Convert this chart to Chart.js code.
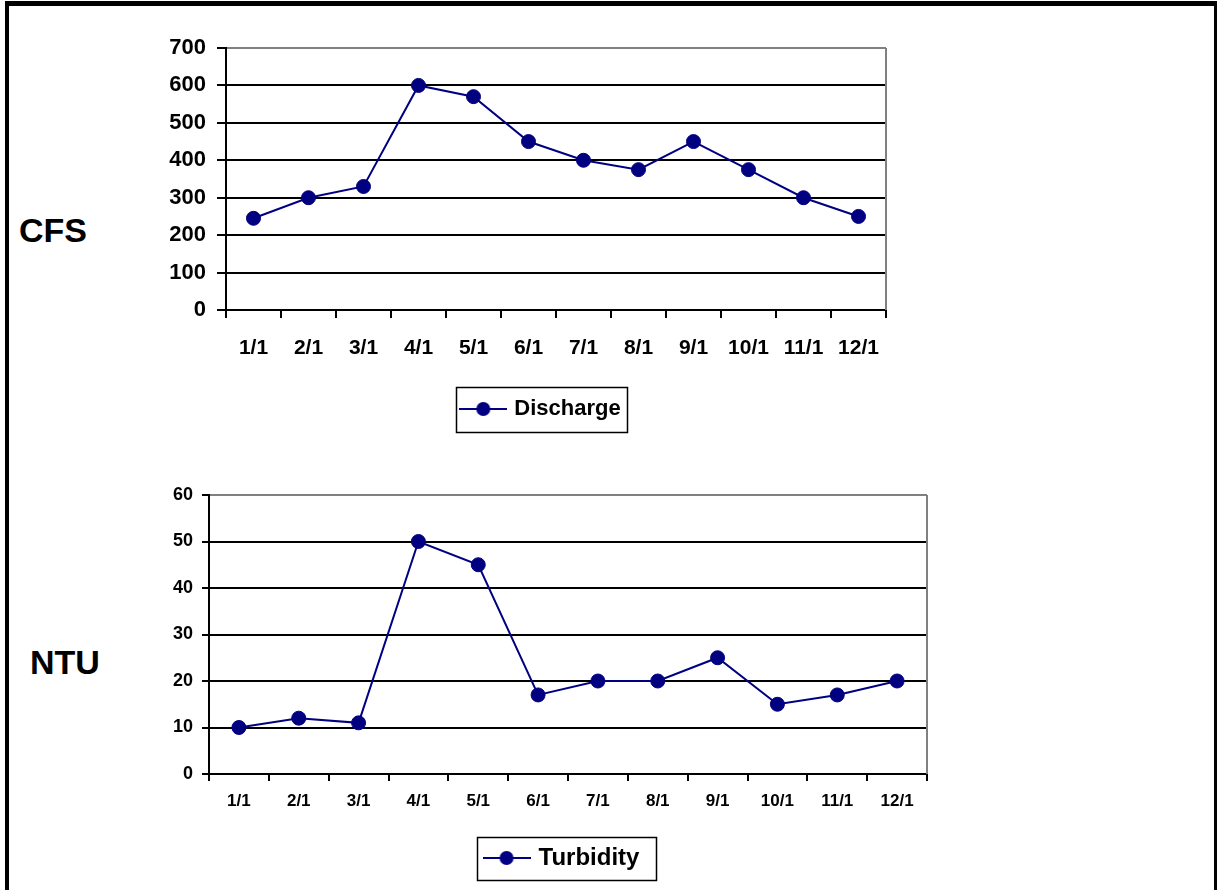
<!DOCTYPE html>
<html>
<head>
<meta charset="utf-8">
<title>Discharge and Turbidity</title>
<script src="https://cdn.jsdelivr.net/npm/chart.js@4.4.1/dist/chart.umd.min.js"></script>
<style>
  html, body { margin: 0; padding: 0; background: #fff; overflow: hidden; }
  body { width: 1217px; height: 890px; position: relative; font-family: "Liberation Sans", Arial, sans-serif; }
  .frame { position: absolute; left: 5px; top: 1px; width: 1213px; height: 900px; box-sizing: border-box;
           border-style: solid; border-color: #000; border-width: 5px 4px 4px 4px; pointer-events: none; z-index: 2; }
  .wrap { position: absolute; left: 0; width: 1217px; }
  .unit { position: absolute; font-weight: bold; font-size: 34px; line-height: 34px; color: #000; }
</style>
</head>
<body>
<div class="frame"></div>
<div class="unit" style="left:19px; top:213px;">CFS</div>
<div class="unit" style="left:30px; top:645px;">NTU</div>
<div class="wrap" style="top:0px;"><canvas id="discharge" width="1217" height="434"></canvas></div>
<div class="wrap" style="top:440px;"><canvas id="turbidity" width="1217" height="444"></canvas></div>
<script>
const months = ["1/1", "2/1", "3/1", "4/1", "5/1", "6/1", "7/1", "8/1", "9/1", "10/1", "11/1", "12/1"];
const discharge = [245, 300, 330, 600, 570, 450, 400, 375, 450, 375, 300, 250];
const turbidity = [10, 12, 11, 50, 45, 17, 20, 20, 25, 15, 17, 20];

const cfsMax = 700, cfsStep = 100;
const ntuMax = 60, ntuStep = 10;

const NAVY = "#000080";
const FONT = "'Liberation Sans', Arial, sans-serif";

function legendMarker() {
  const c = document.createElement("canvas");
  c.width = 48;
  c.height = 16;
  const g = c.getContext("2d");
  g.strokeStyle = NAVY;
  g.lineWidth = 2;
  g.beginPath();
  g.moveTo(0, 8);
  g.lineTo(48, 8);
  g.stroke();
  g.fillStyle = NAVY;
  g.beginPath();
  g.arc(24, 8, 7, 0, Math.PI * 2);
  g.fill();
  return c;
}

// gray border on the right of the plot area, legend nudge + box
const plotFrame = {
  id: "plotFrame",
  afterLayout(chart, args, opts) {
    const lg = chart.legend;
    if (lg && opts.shift) {
      lg.left += opts.shift;
      lg.right += opts.shift;
    }
  },
  beforeDatasetsDraw(chart) {
    const { ctx, chartArea: a } = chart;
    ctx.save();
    ctx.strokeStyle = "#808080";
    ctx.lineWidth = 2;
    ctx.beginPath();
    ctx.moveTo(a.right, a.top);
    ctx.lineTo(a.right, a.bottom);
    ctx.stroke();
    ctx.restore();
  },
  afterDraw(chart, args, opts) {
    const hb = chart.legend && chart.legend.legendHitBoxes && chart.legend.legendHitBoxes[0];
    if (!hb) return;
    const { ctx } = chart;
    const cy = hb.top + hb.height / 2;
    ctx.save();
    ctx.strokeStyle = "#000";
    ctx.lineWidth = 1.5;
    ctx.strokeRect(Math.round(hb.left - opts.padL) + 0.5, Math.round(cy - opts.halfH) + 0.5,
      Math.round(hb.width + opts.padL + opts.padR), Math.round(opts.halfH * 2));
    ctx.restore();
  }
};

function makeChart(canvas, s) {
  const marker = legendMarker();
  return new Chart(canvas, {
    type: "line",
    data: {
      labels: months,
      datasets: [{
        label: s.label,
        data: s.data,
        borderColor: NAVY,
        backgroundColor: NAVY,
        borderWidth: 2,
        tension: 0,
        pointRadius: 7,
        pointHoverRadius: 7,
        pointBackgroundColor: NAVY,
        pointBorderColor: NAVY,
        pointBorderWidth: 1
      }]
    },
    options: {
      responsive: false,
      animation: false,
      events: [],
      layout: { padding: { top: s.top, left: s.left, right: s.right, bottom: 4 } },
      scales: {
        x: {
          offset: true,
          grid: { offset: true, drawOnChartArea: false, drawTicks: true, tickLength: s.xTick, color: "#000", lineWidth: 2 },
          border: { display: true, color: "#000", width: 2 },
          ticks: { color: "#000", font: { family: FONT, size: s.xFont, weight: "bold" },
                   padding: s.xPad, maxRotation: 0, autoSkip: false },
          afterFit: sc => { sc.height = s.xHeight; }
        },
        y: {
          min: 0,
          max: s.max,
          grid: {
            color: c => (c.tick && c.tick.value === s.max ? "#808080" : "#000"),
            tickColor: "#000",
            lineWidth: 2,
            tickLength: s.yTick
          },
          border: { display: true, color: "#000", width: 2 },
          ticks: { stepSize: s.step, color: "#000", font: { family: FONT, size: s.yFont, weight: "bold" }, padding: s.yPad },
          afterFit: sc => { sc.width = s.yWidth; }
        }
      },
      plugins: {
        tooltip: { enabled: false },
        legend: {
          position: "bottom",
          fullSize: false,
          labels: {
            usePointStyle: true,
            pointStyleWidth: 40,
            padding: 10,
            color: "#000",
            font: { family: FONT, size: s.legendFont, weight: "bold" },
            generateLabels: ch => Chart.defaults.plugins.legend.labels.generateLabels(ch)
              .map(l => Object.assign(l, { pointStyle: marker, fontColor: "#000" }))
          }
        },
        plotFrame: s.box
      }
    },
    plugins: [plotFrame]
  });
}

makeChart(document.getElementById("discharge"), {
  label: "Discharge", data: discharge, max: cfsMax, step: cfsStep,
  top: 48, left: 160, right: 331, yWidth: 66, xHeight: 78,
  xFont: 21, yFont: 22, legendFont: 22,
  xTick: 8, xPad: 18, yTick: 9, yPad: 11,
  box: { padL: 7, padR: 7, halfH: 22.5, shift: -14 }
});

makeChart(document.getElementById("turbidity"), {
  label: "Turbidity", data: turbidity, max: ntuMax, step: ntuStep,
  top: 55, left: 160, right: 290, yWidth: 49, xHeight: 62,
  xFont: 17, yFont: 18, legendFont: 24,
  xTick: 7, xPad: 10, yTick: 7, yPad: 9,
  box: { padL: 10, padR: 16, halfH: 21.5, shift: -5 }
});
</script>
</body>
</html>
